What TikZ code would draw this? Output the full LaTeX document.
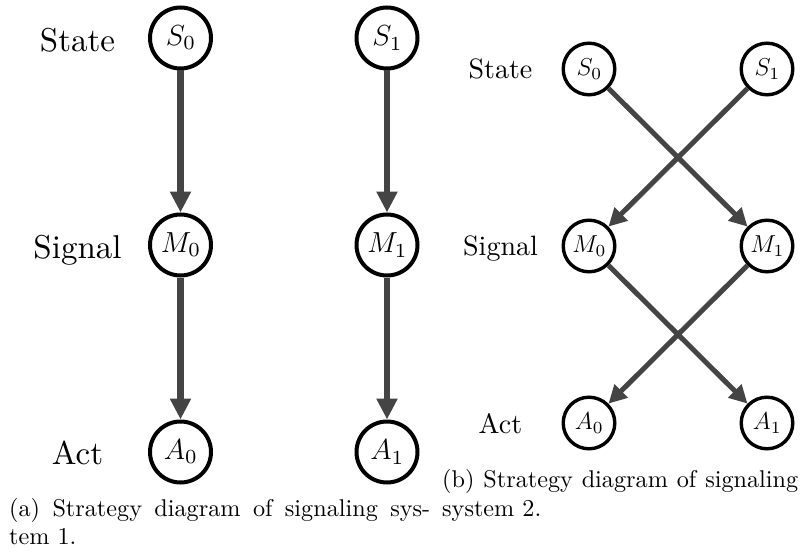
\documentclass[tikz,border=0pt]{standalone}
\usepackage{fix-cm}
\usepackage{fontspec}
\setmainfont{lmroman10-regular.otf}
\newfontfamily\sevenfont{lmroman7-regular.otf}
\usetikzlibrary{arrows.meta}
\definecolor{arrowgray}{HTML}{444444}
\newcommand\subsz{20}
\newcommand\varnd[2]{$#1_{\hbox{\sevenfont\fontsize{\subsz}{\subsz}\selectfont #2}}$}
\tikzset{
  stA/.style={circle, draw=black, line width=4pt, minimum size=61pt, inner sep=0pt, font=\fontsize{29}{35}\selectfont\renewcommand\subsz{20}},
  stB/.style={circle, draw=black, line width=3.4pt, minimum size=51.6pt, inner sep=0pt, font=\fontsize{24.5}{29}\selectfont\renewcommand\subsz{17}},
  labA/.style={anchor=base, inner sep=0pt, font=\fontsize{33}{40}\selectfont},
  labB/.style={anchor=base, inner sep=0pt, font=\fontsize{28}{34}\selectfont},
  arA/.style={-{Triangle[width=20pt,length=21pt]}, line width=6.5pt, draw=arrowgray},
  arB/.style={-{Triangle[width=18pt,length=18pt]}, line width=5pt, draw=arrowgray},
  capt/.style={anchor=base west, inner sep=0pt, font=\fontsize{24.2}{29}\selectfont}
}
\begin{document}
\begin{tikzpicture}[x=1pt,y=-1pt]
\useasboundingbox (0,0) rectangle (805,556);
% (a)
\node[labA] (lsa) at (77.5,52) {State};
\node[labA] (lma) at (77.5,258) {Signal};
\node[labA] (laa) at (77.5,464.5) {Act};
\node[stA] (aS0) at (180.5,38) {\varnd{S}{0}};
\node[stA] (aS1) at (387,38) {\varnd{S}{1}};
\node[stA] (aM0) at (180.5,245) {\varnd{M}{0}};
\node[stA] (aM1) at (387,245) {\varnd{M}{1}};
\node[stA] (aA0) at (180.5,452) {\varnd{A}{0}};
\node[stA] (aA1) at (387,452) {\varnd{A}{1}};
\draw[arA] (aS0) -- (aM0);
\draw[arA] (aM0) -- (aA0);
\draw[arA] (aS1) -- (aM1);
\draw[arA] (aM1) -- (aA1);
% (b)
\node[labB] (lsb) at (500.5,79) {State};
\node[labB] (lmb) at (500.5,255.5) {Signal};
\node[labB] (lab) at (500.5,433) {Act};
\node[stB] (bS0) at (589,69) {\varnd{S}{0}};
\node[stB] (bS1) at (767,69) {\varnd{S}{1}};
\node[stB] (bM0) at (589,246) {\varnd{M}{0}};
\node[stB] (bM1) at (767,246) {\varnd{M}{1}};
\node[stB] (bA0) at (589,423) {\varnd{A}{0}};
\node[stB] (bA1) at (767,423) {\varnd{A}{1}};
\draw[arB] (bS0) -- (bM1);
\draw[arB] (bS1) -- (bM0);
\draw[arB] (bM0) -- (bA1);
\draw[arB] (bM1) -- (bA0);
% captions
\node[capt] (ca1) at (9,516) {\makebox[421pt][s]{(a) Strategy diagram of signaling sys-}};
\node[capt] (ca2) at (9,544.5) {tem 1.};
\node[capt] (cb1) at (442,487) {\makebox[356pt][s]{(b) Strategy diagram of signaling}};
\node[capt] (cb2) at (442,516) {system 2.};
\end{tikzpicture}
\end{document}
